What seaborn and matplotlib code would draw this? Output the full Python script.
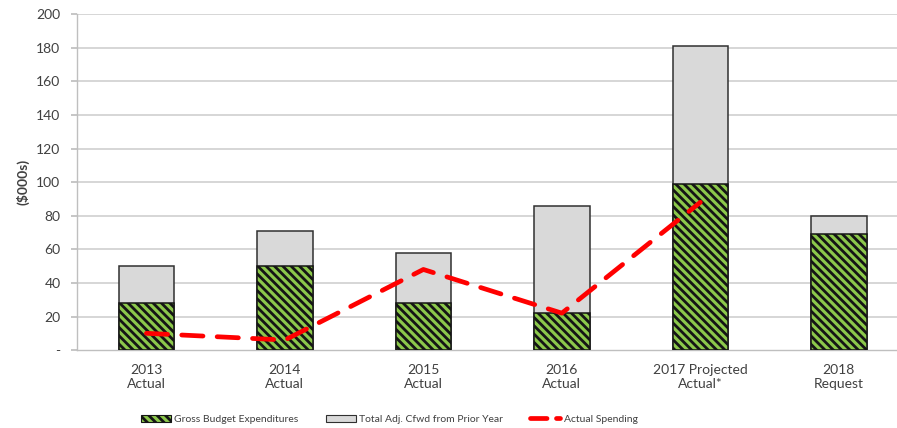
import matplotlib
matplotlib.use("Agg")
import matplotlib.pyplot as plt
from matplotlib.patches import Patch
from matplotlib.lines import Line2D
import seaborn as sns
import pandas as pd

categories = ["2013\nActual", "2014\nActual", "2015\nActual", "2016\nActual",
              "2017 Projected\nActual*", "2018\nRequest"]
gross_budget = [28, 50, 28, 22, 99, 69]
cfwd_prior = [22, 21, 30, 64, 82, 11]
actual_spending = [10, 6, 48, 22, 88]
y_ticks = [0, 20, 40, 60, 80, 100, 120, 140, 160, 180, 200]
y_tick_labels = ["-", "20", "40", "60", "80", "100", "120", "140", "160", "180", "200"]

sns.set_theme(style="white")
plt.rcParams["font.family"] = ["Lato", "DejaVu Sans"]
plt.rcParams["hatch.linewidth"] = 2.0

text_color = "#404040"
green = "#8CC84B"
gray = "#D9D9D9"
red = "#FF0000"
stripes = "\\\\\\\\"

df = pd.DataFrame({
    "category": categories,
    "gross": gross_budget,
    "total": [g + c for g, c in zip(gross_budget, cfwd_prior)],
})
line_df = pd.DataFrame({"pos": list(range(len(actual_spending))),
                        "spend": actual_spending})

fig = plt.figure(figsize=(8.97, 4.28), dpi=100)
ax = fig.add_axes([0.086, 0.182, 0.914, 0.785])

# horizontal grid lines behind the bars
ax.set_axisbelow(True)
for y in y_ticks[1:]:
    ax.axhline(y, color="#D0D0D0", lw=1.2, zorder=0)

sns.barplot(data=df, x="category", y="total", color=gray, width=0.4,
            edgecolor="#303030", linewidth=1.1, saturation=1, ax=ax, zorder=2)
sns.barplot(data=df, x="category", y="gross", color=green, width=0.4,
            edgecolor="#151515", linewidth=1.1, hatch=stripes, saturation=1,
            ax=ax, zorder=3)
sns.lineplot(data=line_df, x="pos", y="spend", color=red, lw=3.4,
             dashes=False, ax=ax, zorder=4)
ax.lines[-1].set_dashes([4.5, 3.0])
ax.lines[-1].set_dash_capstyle("round")

ax.set_xlim(-0.5, 5.42)
ax.set_ylim(0, 200)
ax.set_yticks(y_ticks)
ax.set_yticklabels(y_tick_labels)
ax.set_xlabel("")
ax.set_ylabel("($000s)", fontsize=10, fontweight="bold", color=text_color, labelpad=5)

for s in ["top", "right"]:
    ax.spines[s].set_visible(False)
ax.spines["left"].set_color("#BFBFBF")
ax.spines["bottom"].set_color("#BFBFBF")
ax.spines["left"].set_linewidth(1.0)
ax.spines["bottom"].set_linewidth(1.0)

ax.set_xticks([i - 0.5 for i in range(len(categories))], minor=True)
ax.tick_params(axis="x", which="major", length=0, labelsize=10,
               labelcolor=text_color, pad=10)
ax.tick_params(axis="x", which="minor", length=4, color="#BFBFBF", width=1)
ax.tick_params(axis="y", length=4, color="#BFBFBF", labelsize=10,
               labelcolor=text_color, pad=8, left=True)

handles = [
    Patch(facecolor=green, edgecolor="#151515", hatch=stripes, lw=0.8),
    Patch(facecolor=gray, edgecolor="#303030", lw=0.8),
    Line2D([0], [0], color=red, lw=3.4, dashes=[3.5, 2.0], dash_capstyle="round"),
]
labels = ["Gross Budget Expenditures", "Total Adj. Cfwd from Prior Year", "Actual Spending"]
leg = fig.legend(handles, labels, loc="center", bbox_to_anchor=(0.434, 0.02),
                 ncol=3, frameon=False, fontsize=7.5, handlelength=2.9,
                 handleheight=0.7, columnspacing=2.6, handletextpad=0.3)
for t in leg.get_texts():
    t.set_color(text_color)

fig.savefig("out.png", dpi=100)
